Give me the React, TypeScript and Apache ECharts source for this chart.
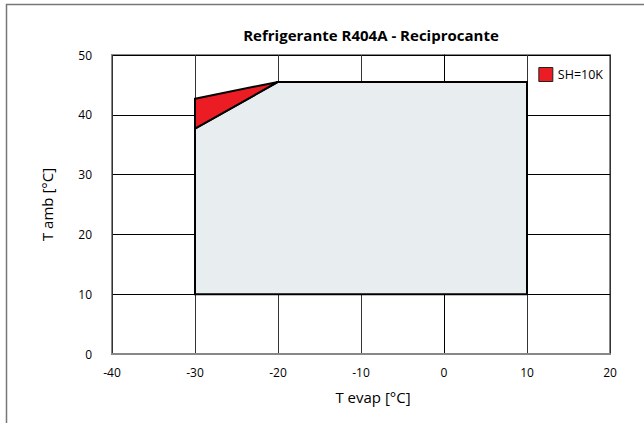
import React, { useEffect, useRef } from "react";
import * as echarts from "echarts";

const title = "Refrigerante R404A - Reciprocante";
const xName = "T evap [°C]";
const yName = "T amb [°C]";
const xMin = -40, xMax = 20, xStep = 10;
const yMin = 0, yMax = 50, yStep = 10;

// Operating envelope (grey)
const envelopeX = [-30, 10, 10, -20, -30];
const envelopeY = [10, 10, 45.5, 45.5, 37.7];

// SH=10K region (red)
const shName = "SH=10K";
const shX = [-30, -20, -30];
const shY = [42.7, 45.5, 37.7];

function polySeries(name: string, xs: number[], ys: number[], fill: string, z: number) {
  const data = xs.map((x, i) => [x, ys[i]]);
  return {
    type: "custom",
    name,
    z,
    data,
    itemStyle: { color: fill, borderColor: "#000", borderWidth: 1 },
    renderItem: (params: any, api: any) => {
      if (params.dataIndex !== 0) return null;
      const pts = data.map((d) => api.coord(d));
      return {
        type: "polygon",
        shape: { points: pts },
        style: { fill, stroke: "#000", lineWidth: 2, lineJoin: "miter" },
      };
    },
  };
}

export default function App() {
  const ref = useRef<HTMLDivElement>(null);
  useEffect(() => {
    document.body.style.margin = "0";
    const chart = echarts.init(ref.current!, null, { renderer: "svg" });
    const font = "'Open Sans', 'Noto Sans', sans-serif";
    chart.setOption({
      animation: false,
      textStyle: { fontFamily: font },
      title: {
        text: title,
        left: 366,
        top: 22,
        textAlign: "center",
        textStyle: { fontSize: 15, fontWeight: "bold", color: "#000", fontFamily: font },
      },
      graphic: [
        {
          type: "rect",
          shape: { x: 6.5, y: 4.5, width: 700, height: 500 },
          style: { fill: "none", stroke: "#777", lineWidth: 1.5 },
          z: 0,
        },
      ],
      legend: {
        data: [shName],
        right: 36,
        top: 62,
        itemWidth: 14,
        itemHeight: 14,
        itemGap: 8,
        icon: "rect",
        textStyle: { fontSize: 12.5, color: "#000", fontFamily: font },
        itemStyle: { borderColor: "#222", borderWidth: 1 },
      },
      grid: {
        left: 112,
        right: 34,
        top: 55,
        bottom: 69,
        show: true,
        borderColor: "#888",
        borderWidth: 2,
        backgroundColor: "#fff",
      },
      xAxis: {
        type: "value",
        min: xMin,
        max: xMax,
        interval: xStep,
        name: xName,
        nameLocation: "middle",
        nameGap: 35,
        nameTextStyle: { fontSize: 15, color: "#000", fontFamily: font, padding: [0, 0, 0, 24] },
        axisLine: { show: true, lineStyle: { color: "#888", width: 2 } },
        axisTick: { show: false },
        axisLabel: { fontSize: 12, color: "#000", margin: 12, fontFamily: font },
        splitLine: { show: true, lineStyle: { color: "#333", width: 1 } },
      },
      yAxis: {
        type: "value",
        min: yMin,
        max: yMax,
        interval: yStep,
        name: yName,
        nameLocation: "middle",
        nameGap: 58,
        nameTextStyle: { fontSize: 15, color: "#000", fontFamily: font },
        axisLine: { show: true, lineStyle: { color: "#000", width: 1 } },
        axisTick: { show: false },
        axisLabel: { fontSize: 12, color: "#000", margin: 20, fontFamily: font },
        splitLine: { show: true, lineStyle: { color: "#000", width: 1 } },
      },
      series: [
        polySeries("envelope", envelopeX, envelopeY, "#e8edf0", 2),
        polySeries(shName, shX, shY, "#ec1c24", 3),
      ],
    });
    return () => chart.dispose();
  }, []);
  return <div ref={ref} style={{ width: 644, height: 423 }} />;
}
